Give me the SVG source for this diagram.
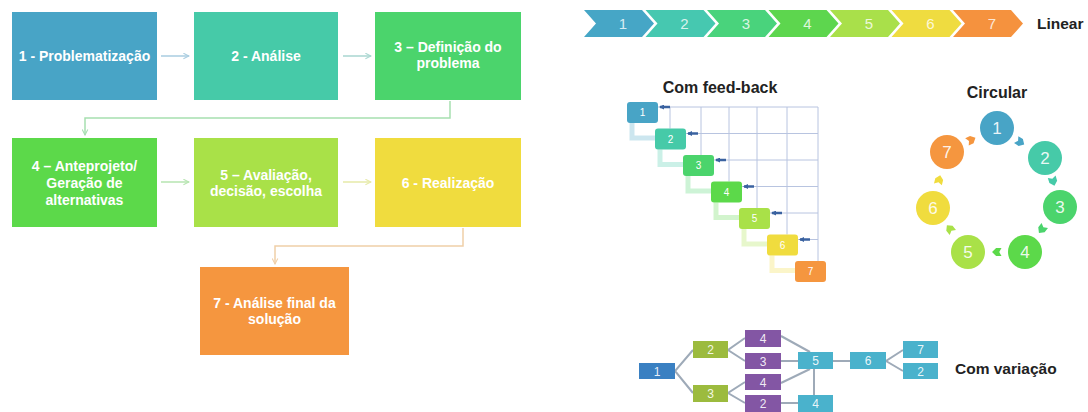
<svg xmlns="http://www.w3.org/2000/svg" width="1088" height="412" viewBox="0 0 1088 412">
<style>
.bt{font-family:"Liberation Sans",Arial,sans-serif;font-weight:bold;font-size:14px;fill:#ffffff;text-anchor:middle}
.ttl{font-family:"Liberation Sans",Arial,sans-serif;font-weight:bold;font-size:16px;fill:#222222}
.num{font-family:"Liberation Sans",Arial,sans-serif;font-size:15px;fill:#ffffff;fill-opacity:0.8;text-anchor:middle}
.sn{font-family:"Liberation Sans",Arial,sans-serif;font-size:10px;fill:#ffffff;text-anchor:middle}
.vn{font-family:"Liberation Sans",Arial,sans-serif;font-size:12px;fill:#ffffff;fill-opacity:0.9;text-anchor:middle}
.cn{font-family:"Liberation Sans",Arial,sans-serif;font-size:17px;fill:#ffffff;fill-opacity:0.9;text-anchor:middle}
.grid{stroke:#b8c4e0;stroke-width:1;fill:none}
.vl{stroke:#9eaab8;stroke-width:2;fill:none}
.ca{stroke-width:1.5;stroke-linejoin:round}
</style>
<defs>
<marker id="ah" viewBox="0 0 10 10" refX="9" refY="5" markerWidth="7" markerHeight="7" orient="auto-start-reverse" markerUnits="userSpaceOnUse"><path d="M1,1 L9,5 L1,9" fill="none" stroke="context-stroke" stroke-width="1.5"/></marker>
<marker id="fb" viewBox="0 0 10 10" refX="2" refY="5" markerWidth="5" markerHeight="5" orient="auto" markerUnits="userSpaceOnUse"><path d="M10,0 L0,5 L10,10 Z" fill="#3a62a0"/></marker>
<path id="sa" d="M-5,-4.5 L1,-4.5 L5.5,0 L1,4.5 L-5,4.5 L-2.5,0 Z"/>
</defs>

<!-- connectors of the left flowchart -->
<g id="connectors" fill="none" stroke-width="1.5">
<line x1="161" y1="56" x2="189" y2="56" stroke="#a9cde0" marker-end="url(#ah)"/>
<line x1="343" y1="56" x2="371" y2="56" stroke="#a9d6d0" marker-end="url(#ah)"/>
<polyline points="450,101 450,118 85,118 85,135" stroke="#a6dfb0" marker-end="url(#ah)"/>
<line x1="161" y1="182" x2="189" y2="182" stroke="#b6e4b0" marker-end="url(#ah)"/>
<line x1="343" y1="182" x2="371" y2="182" stroke="#e6eaa8" marker-end="url(#ah)"/>
<polyline points="463,228 463,246 275,246 275,264" stroke="#f0cfa8" marker-end="url(#ah)"/>
</g>

<g id="n1"><rect x="12" y="12" width="145" height="88" fill="#48a4c6"/><text class="bt" x="84.5" y="61">1 - Problematização</text></g>
<g id="n2"><rect x="194" y="12" width="144" height="88" fill="#46caa8"/><text class="bt" x="266" y="61">2 - Análise</text></g>
<g id="n3"><rect x="375" y="12" width="146" height="88" fill="#4bd46c"/><text class="bt" x="448" y="52">3 – Definição do</text><text class="bt" x="448" y="68">problema</text></g>
<g id="n4"><rect x="12" y="138" width="145" height="89" fill="#5cd94a"/><text class="bt" x="84.5" y="171">4 – Anteprojeto/</text><text class="bt" x="84.5" y="188">Geração de</text><text class="bt" x="84.5" y="205">alternativas</text></g>
<g id="n5"><rect x="194" y="138" width="144" height="89" fill="#a9e148"/><text class="bt" x="266" y="180">5 – Avaliação,</text><text class="bt" x="266" y="196">decisão, escolha</text></g>
<g id="n6"><rect x="375" y="138" width="146" height="89" fill="#f0dc3e"/><text class="bt" x="448" y="188">6 - Realização</text></g>
<g id="n7"><rect x="200" y="267" width="149" height="88" fill="#f5963f"/><text class="bt" x="274.5" y="308">7 - Análise final da</text><text class="bt" x="274.5" y="324">solução</text></g>

<!-- Linear -->
<g id="linear">
<path d="M584,10 L642,10 L654,23.5 L642,37 L584,37 L596,23.5 Z" fill="#46a6c6"/>
<path d="M645.5,10 L703.5,10 L715.5,23.5 L703.5,37 L645.5,37 L657.5,23.5 Z" fill="#46c8b0"/>
<path d="M707,10 L765,10 L777,23.5 L765,37 L707,37 L719,23.5 Z" fill="#49d37c"/>
<path d="M768.5,10 L826.5,10 L838.5,23.5 L826.5,37 L768.5,37 L780.5,23.5 Z" fill="#5dd64e"/>
<path d="M830,10 L888,10 L900,23.5 L888,37 L830,37 L842,23.5 Z" fill="#a9e04a"/>
<path d="M891.5,10 L949.5,10 L961.5,23.5 L949.5,37 L891.5,37 L903.5,23.5 Z" fill="#efdc40"/>
<path d="M953,10 L1011,10 L1023,23.5 L1011,37 L953,37 L965,23.5 Z" fill="#f5923e"/>
<text class="num" x="623" y="29">1</text>
<text class="num" x="684.5" y="29">2</text>
<text class="num" x="746" y="29">3</text>
<text class="num" x="807.5" y="29">4</text>
<text class="num" x="869" y="29">5</text>
<text class="num" x="930.5" y="29">6</text>
<text class="num" x="992" y="29">7</text>
<text class="ttl" x="1037" y="29" style="font-size:15.5px">Linear</text>
</g>

<!-- Com feed-back -->
<g id="feedback">
<text class="ttl" x="720" y="93" text-anchor="middle">Com feed-back</text>
<g class="grid">
<line x1="658" y1="107" x2="818" y2="107"/>
<line x1="686" y1="133.5" x2="818" y2="133.5"/>
<line x1="714" y1="160" x2="818" y2="160"/>
<line x1="742" y1="186.5" x2="818" y2="186.5"/>
<line x1="770" y1="213" x2="818" y2="213"/>
<line x1="798" y1="239.5" x2="818" y2="239.5"/>
<line x1="670" y1="107" x2="670" y2="128.5"/>
<line x1="701" y1="107" x2="701" y2="155"/>
<line x1="729" y1="107" x2="729" y2="181.5"/>
<line x1="757" y1="107" x2="757" y2="208"/>
<line x1="787" y1="107" x2="787" y2="234.5"/>
<line x1="818" y1="107" x2="818" y2="261"/>
</g>
<g fill="none" stroke-width="5" stroke-opacity="0.28">
<polyline points="632,122 632,138 655,138" stroke="#48a4c6"/>
<polyline points="660,149.5 660,164.5 683,164.5" stroke="#46caa8"/>
<polyline points="688,176 688,191 711,191" stroke="#4bd46c"/>
<polyline points="716,202.5 716,217.5 739,217.5" stroke="#5cd94a"/>
<polyline points="744,229 744,244 767,244" stroke="#a9e148"/>
<polyline points="772,255.5 772,270.5 795,270.5" stroke="#f0dc3e"/>
</g>
<g stroke="#3a62a0" stroke-width="2.5" marker-start="url(#fb)">
<line x1="660" y1="107" x2="670" y2="107"/>
<line x1="688" y1="133.5" x2="698" y2="133.5"/>
<line x1="716" y1="160" x2="726" y2="160"/>
<line x1="744" y1="186.5" x2="754" y2="186.5"/>
<line x1="772" y1="213" x2="782" y2="213"/>
<line x1="800" y1="239.5" x2="810" y2="239.5"/>
</g>
<rect x="627" y="102" width="31" height="21" rx="3" fill="#48a4c6"/>
<rect x="655" y="128.5" width="31" height="21" rx="3" fill="#46caa8"/>
<rect x="683" y="155" width="31" height="21" rx="3" fill="#4bd46c"/>
<rect x="711" y="181.5" width="31" height="21" rx="3" fill="#5cd94a"/>
<rect x="739" y="208" width="31" height="21" rx="3" fill="#a9e148"/>
<rect x="767" y="234.5" width="31" height="21" rx="3" fill="#f0dc3e"/>
<rect x="795" y="261" width="31" height="21" rx="3" fill="#f5963f"/>
<text class="sn" x="642.5" y="116">1</text>
<text class="sn" x="670.5" y="142.5">2</text>
<text class="sn" x="698.5" y="169">3</text>
<text class="sn" x="726.5" y="195.5">4</text>
<text class="sn" x="754.5" y="222">5</text>
<text class="sn" x="782.5" y="248.5">6</text>
<text class="sn" x="810.5" y="275">7</text>
</g>

<!-- Circular -->
<g id="circular">
<text class="ttl" x="997" y="98" text-anchor="middle">Circular</text>
<g>
<use href="#sa" fill="#48a4c6" transform="translate(1020,142) rotate(32) scale(0.9)"/>
<use href="#sa" fill="#46caa8" transform="translate(1053,181) rotate(73) scale(0.9)"/>
<use href="#sa" fill="#4bd46c" transform="translate(1042,229) rotate(128) scale(0.9)"/>
<use href="#sa" fill="#5cd94a" transform="translate(997,252) rotate(180) scale(0.9)"/>
<use href="#sa" fill="#a9e148" transform="translate(950,229) rotate(231) scale(0.9)"/>
<use href="#sa" fill="#f0dc3e" transform="translate(939,180) rotate(284) scale(0.9)"/>
<use href="#sa" fill="#f5963f" transform="translate(971,140) rotate(334) scale(0.9)"/>
</g>
<circle cx="997" cy="128" r="17" fill="#48a4c6"/><text class="cn" x="997" y="134">1</text>
<circle cx="1045" cy="158" r="17" fill="#46caa8"/><text class="cn" x="1045" y="164">2</text>
<circle cx="1060" cy="207" r="17" fill="#4bd46c"/><text class="cn" x="1060" y="213">3</text>
<circle cx="1025" cy="252" r="17" fill="#5cd94a"/><text class="cn" x="1025" y="258">4</text>
<circle cx="968" cy="252" r="17" fill="#a9e148"/><text class="cn" x="968" y="258">5</text>
<circle cx="933" cy="208" r="17" fill="#f0dc3e"/><text class="cn" x="933" y="214">6</text>
<circle cx="947" cy="152" r="17" fill="#f5963f"/><text class="cn" x="947" y="158">7</text>
</g>

<!-- Com variação -->
<g id="variation">
<g class="vl">
<polyline points="693,350 675,371 693,393"/>
<polyline points="745,338 728,350 745,361"/>
<polyline points="745,382 728,393 745,403"/>
<line x1="781" y1="336" x2="810" y2="352"/>
<line x1="781" y1="361" x2="798" y2="361"/>
<line x1="781" y1="383" x2="810" y2="369"/>
<line x1="781" y1="403" x2="798" y2="403"/>
<line x1="814" y1="369" x2="814" y2="395"/>
<line x1="833" y1="361" x2="850" y2="361"/>
<polyline points="903,350 886,361 903,371"/>
</g>
<rect x="639" y="363" width="36" height="16" fill="#3a80c2"/><text class="vn" x="657" y="375.5">1</text>
<rect x="693" y="341" width="35" height="17" fill="#9cbb3e"/><text class="vn" x="710.5" y="354">2</text>
<rect x="693" y="385" width="35" height="17" fill="#9cbb3e"/><text class="vn" x="710.5" y="398">3</text>
<rect x="745" y="330" width="36" height="17" fill="#8356a4"/><text class="vn" x="763" y="343">4</text>
<rect x="745" y="353" width="36" height="16" fill="#8356a4"/><text class="vn" x="763" y="365.5">3</text>
<rect x="745" y="374" width="36" height="16" fill="#8356a4"/><text class="vn" x="763" y="386.5">4</text>
<rect x="745" y="395" width="36" height="17" fill="#8356a4"/><text class="vn" x="763" y="408">2</text>
<rect x="798" y="352" width="35" height="17" fill="#4ab2cc"/><text class="vn" x="815.5" y="365">5</text>
<rect x="798" y="395" width="35" height="17" fill="#4ab2cc"/><text class="vn" x="815.5" y="408">4</text>
<rect x="850" y="352" width="36" height="17" fill="#4ab2cc"/><text class="vn" x="868" y="365">6</text>
<rect x="903" y="341" width="35" height="17" fill="#4ab2cc"/><text class="vn" x="920.5" y="354">7</text>
<rect x="903" y="363" width="35" height="16" fill="#4ab2cc"/><text class="vn" x="920.5" y="375.5">2</text>
<text class="ttl" x="955" y="374" style="font-size:15.5px">Com variação</text>
</g>
</svg>
